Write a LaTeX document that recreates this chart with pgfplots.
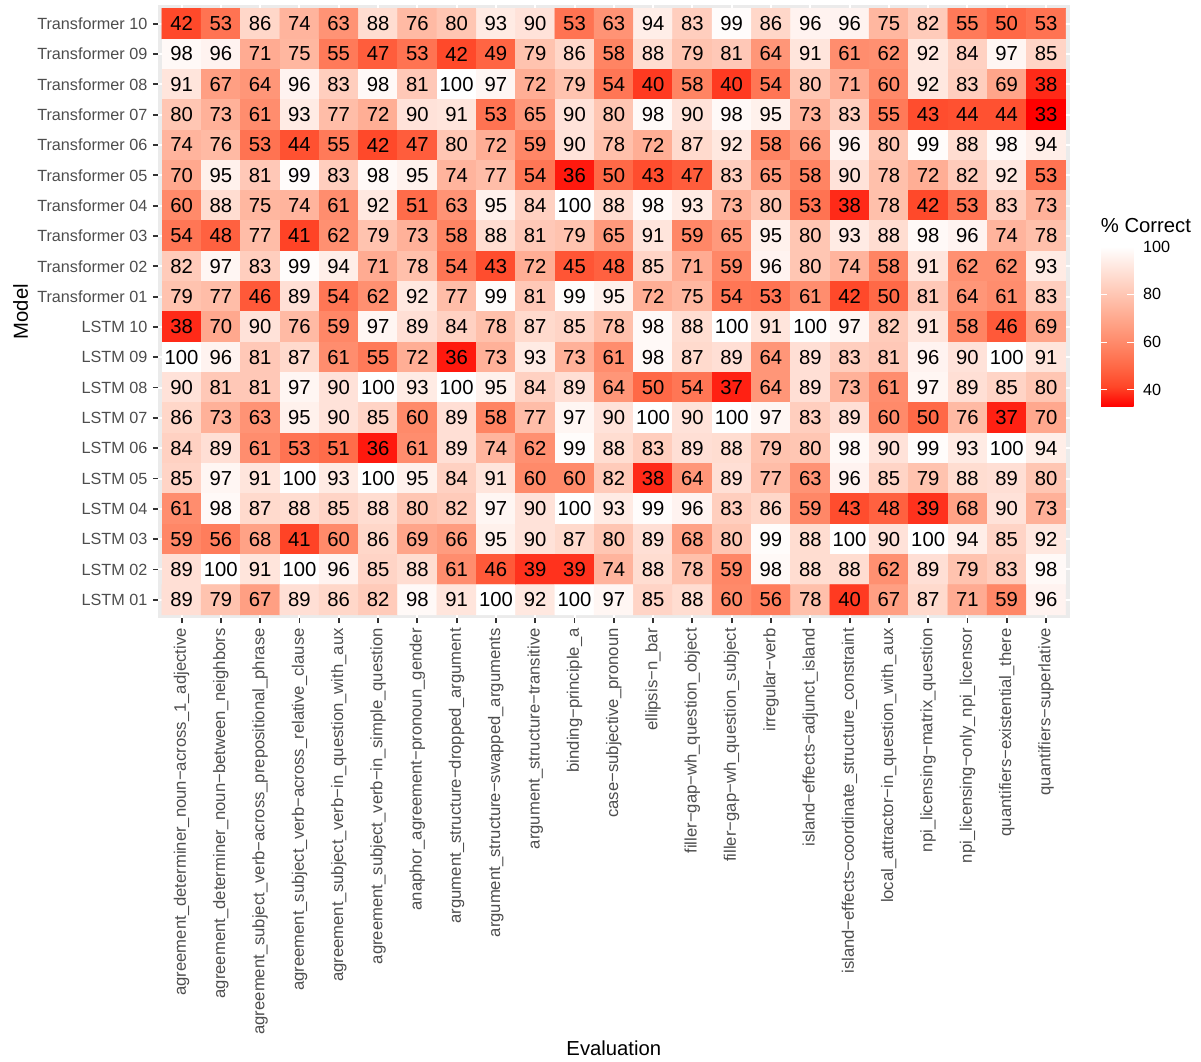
\documentclass[border=0pt]{standalone}
\usepackage{fontspec}
\setmainfont{Liberation Sans}
\usepackage{pgfplots}
\usepackage{pgfplotstable}
\pgfplotsset{compat=1.18}
\pgfplotsset{/pgf/number format/assume math mode=true}
\definecolor{ggbg}{HTML}{EBEBEB}
\definecolor{gggray30}{HTML}{4D4D4D}
\definecolor{gggray20}{HTML}{333333}
\newcommand\tickfont{\fontsize{12.15pt}{14pt}\selectfont}
\newcommand\xtickfont{\fontsize{12.5pt}{14pt}\selectfont}
\newcommand\cellfont{\fontsize{15.2pt}{18pt}\selectfont}
\newcommand\titlefont{\fontsize{15.2pt}{18pt}\selectfont}
\pgfplotsset{colormap={ggred}{rgb255=(255,0,0) rgb255=(255,70,40) rgb255=(255,104,70) rgb255=(255,132,100) rgb255=(255,158,129) rgb255=(255,183,160) rgb255=(255,207,191) rgb255=(255,231,223) rgb255=(255,255,255)}}
\pgfplotsset{colorbar/width=24.5pt, colorbar shift/.style={xshift=22.8pt, yshift=-180.9pt}}
% y = 1 is Transformer 10 (top row), y = 20 is LSTM 01 (bottom row)
\pgfplotstableread[row sep=\\]{
x y c\\
1 1 42\\ 2 1 53\\ 3 1 86\\ 4 1 74\\ 5 1 63\\ 6 1 88\\ 7 1 76\\ 8 1 80\\ 9 1 93\\ 10 1 90\\ 11 1 53\\ 12 1 63\\ 13 1 94\\ 14 1 83\\ 15 1 99\\ 16 1 86\\ 17 1 96\\ 18 1 96\\ 19 1 75\\ 20 1 82\\ 21 1 55\\ 22 1 50\\ 23 1 53\\
1 2 98\\ 2 2 96\\ 3 2 71\\ 4 2 75\\ 5 2 55\\ 6 2 47\\ 7 2 53\\ 8 2 42\\ 9 2 49\\ 10 2 79\\ 11 2 86\\ 12 2 58\\ 13 2 88\\ 14 2 79\\ 15 2 81\\ 16 2 64\\ 17 2 91\\ 18 2 61\\ 19 2 62\\ 20 2 92\\ 21 2 84\\ 22 2 97\\ 23 2 85\\
1 3 91\\ 2 3 67\\ 3 3 64\\ 4 3 96\\ 5 3 83\\ 6 3 98\\ 7 3 81\\ 8 3 100\\ 9 3 97\\ 10 3 72\\ 11 3 79\\ 12 3 54\\ 13 3 40\\ 14 3 58\\ 15 3 40\\ 16 3 54\\ 17 3 80\\ 18 3 71\\ 19 3 60\\ 20 3 92\\ 21 3 83\\ 22 3 69\\ 23 3 38\\
1 4 80\\ 2 4 73\\ 3 4 61\\ 4 4 93\\ 5 4 77\\ 6 4 72\\ 7 4 90\\ 8 4 91\\ 9 4 53\\ 10 4 65\\ 11 4 90\\ 12 4 80\\ 13 4 98\\ 14 4 90\\ 15 4 98\\ 16 4 95\\ 17 4 73\\ 18 4 83\\ 19 4 55\\ 20 4 43\\ 21 4 44\\ 22 4 44\\ 23 4 33\\
1 5 74\\ 2 5 76\\ 3 5 53\\ 4 5 44\\ 5 5 55\\ 6 5 42\\ 7 5 47\\ 8 5 80\\ 9 5 72\\ 10 5 59\\ 11 5 90\\ 12 5 78\\ 13 5 72\\ 14 5 87\\ 15 5 92\\ 16 5 58\\ 17 5 66\\ 18 5 96\\ 19 5 80\\ 20 5 99\\ 21 5 88\\ 22 5 98\\ 23 5 94\\
1 6 70\\ 2 6 95\\ 3 6 81\\ 4 6 99\\ 5 6 83\\ 6 6 98\\ 7 6 95\\ 8 6 74\\ 9 6 77\\ 10 6 54\\ 11 6 36\\ 12 6 50\\ 13 6 43\\ 14 6 47\\ 15 6 83\\ 16 6 65\\ 17 6 58\\ 18 6 90\\ 19 6 78\\ 20 6 72\\ 21 6 82\\ 22 6 92\\ 23 6 53\\
1 7 60\\ 2 7 88\\ 3 7 75\\ 4 7 74\\ 5 7 61\\ 6 7 92\\ 7 7 51\\ 8 7 63\\ 9 7 95\\ 10 7 84\\ 11 7 100\\ 12 7 88\\ 13 7 98\\ 14 7 93\\ 15 7 73\\ 16 7 80\\ 17 7 53\\ 18 7 38\\ 19 7 78\\ 20 7 42\\ 21 7 53\\ 22 7 83\\ 23 7 73\\
1 8 54\\ 2 8 48\\ 3 8 77\\ 4 8 41\\ 5 8 62\\ 6 8 79\\ 7 8 73\\ 8 8 58\\ 9 8 88\\ 10 8 81\\ 11 8 79\\ 12 8 65\\ 13 8 91\\ 14 8 59\\ 15 8 65\\ 16 8 95\\ 17 8 80\\ 18 8 93\\ 19 8 88\\ 20 8 98\\ 21 8 96\\ 22 8 74\\ 23 8 78\\
1 9 82\\ 2 9 97\\ 3 9 83\\ 4 9 99\\ 5 9 94\\ 6 9 71\\ 7 9 78\\ 8 9 54\\ 9 9 43\\ 10 9 72\\ 11 9 45\\ 12 9 48\\ 13 9 85\\ 14 9 71\\ 15 9 59\\ 16 9 96\\ 17 9 80\\ 18 9 74\\ 19 9 58\\ 20 9 91\\ 21 9 62\\ 22 9 62\\ 23 9 93\\
1 10 79\\ 2 10 77\\ 3 10 46\\ 4 10 89\\ 5 10 54\\ 6 10 62\\ 7 10 92\\ 8 10 77\\ 9 10 99\\ 10 10 81\\ 11 10 99\\ 12 10 95\\ 13 10 72\\ 14 10 75\\ 15 10 54\\ 16 10 53\\ 17 10 61\\ 18 10 42\\ 19 10 50\\ 20 10 81\\ 21 10 64\\ 22 10 61\\ 23 10 83\\
1 11 38\\ 2 11 70\\ 3 11 90\\ 4 11 76\\ 5 11 59\\ 6 11 97\\ 7 11 89\\ 8 11 84\\ 9 11 78\\ 10 11 87\\ 11 11 85\\ 12 11 78\\ 13 11 98\\ 14 11 88\\ 15 11 100\\ 16 11 91\\ 17 11 100\\ 18 11 97\\ 19 11 82\\ 20 11 91\\ 21 11 58\\ 22 11 46\\ 23 11 69\\
1 12 100\\ 2 12 96\\ 3 12 81\\ 4 12 87\\ 5 12 61\\ 6 12 55\\ 7 12 72\\ 8 12 36\\ 9 12 73\\ 10 12 93\\ 11 12 73\\ 12 12 61\\ 13 12 98\\ 14 12 87\\ 15 12 89\\ 16 12 64\\ 17 12 89\\ 18 12 83\\ 19 12 81\\ 20 12 96\\ 21 12 90\\ 22 12 100\\ 23 12 91\\
1 13 90\\ 2 13 81\\ 3 13 81\\ 4 13 97\\ 5 13 90\\ 6 13 100\\ 7 13 93\\ 8 13 100\\ 9 13 95\\ 10 13 84\\ 11 13 89\\ 12 13 64\\ 13 13 50\\ 14 13 54\\ 15 13 37\\ 16 13 64\\ 17 13 89\\ 18 13 73\\ 19 13 61\\ 20 13 97\\ 21 13 89\\ 22 13 85\\ 23 13 80\\
1 14 86\\ 2 14 73\\ 3 14 63\\ 4 14 95\\ 5 14 90\\ 6 14 85\\ 7 14 60\\ 8 14 89\\ 9 14 58\\ 10 14 77\\ 11 14 97\\ 12 14 90\\ 13 14 100\\ 14 14 90\\ 15 14 100\\ 16 14 97\\ 17 14 83\\ 18 14 89\\ 19 14 60\\ 20 14 50\\ 21 14 76\\ 22 14 37\\ 23 14 70\\
1 15 84\\ 2 15 89\\ 3 15 61\\ 4 15 53\\ 5 15 51\\ 6 15 36\\ 7 15 61\\ 8 15 89\\ 9 15 74\\ 10 15 62\\ 11 15 99\\ 12 15 88\\ 13 15 83\\ 14 15 89\\ 15 15 88\\ 16 15 79\\ 17 15 80\\ 18 15 98\\ 19 15 90\\ 20 15 99\\ 21 15 93\\ 22 15 100\\ 23 15 94\\
1 16 85\\ 2 16 97\\ 3 16 91\\ 4 16 100\\ 5 16 93\\ 6 16 100\\ 7 16 95\\ 8 16 84\\ 9 16 91\\ 10 16 60\\ 11 16 60\\ 12 16 82\\ 13 16 38\\ 14 16 64\\ 15 16 89\\ 16 16 77\\ 17 16 63\\ 18 16 96\\ 19 16 85\\ 20 16 79\\ 21 16 88\\ 22 16 89\\ 23 16 80\\
1 17 61\\ 2 17 98\\ 3 17 87\\ 4 17 88\\ 5 17 85\\ 6 17 88\\ 7 17 80\\ 8 17 82\\ 9 17 97\\ 10 17 90\\ 11 17 100\\ 12 17 93\\ 13 17 99\\ 14 17 96\\ 15 17 83\\ 16 17 86\\ 17 17 59\\ 18 17 43\\ 19 17 48\\ 20 17 39\\ 21 17 68\\ 22 17 90\\ 23 17 73\\
1 18 59\\ 2 18 56\\ 3 18 68\\ 4 18 41\\ 5 18 60\\ 6 18 86\\ 7 18 69\\ 8 18 66\\ 9 18 95\\ 10 18 90\\ 11 18 87\\ 12 18 80\\ 13 18 89\\ 14 18 68\\ 15 18 80\\ 16 18 99\\ 17 18 88\\ 18 18 100\\ 19 18 90\\ 20 18 100\\ 21 18 94\\ 22 18 85\\ 23 18 92\\
1 19 89\\ 2 19 100\\ 3 19 91\\ 4 19 100\\ 5 19 96\\ 6 19 85\\ 7 19 88\\ 8 19 61\\ 9 19 46\\ 10 19 39\\ 11 19 39\\ 12 19 74\\ 13 19 88\\ 14 19 78\\ 15 19 59\\ 16 19 98\\ 17 19 88\\ 18 19 88\\ 19 19 62\\ 20 19 89\\ 21 19 79\\ 22 19 83\\ 23 19 98\\
1 20 89\\ 2 20 79\\ 3 20 67\\ 4 20 89\\ 5 20 86\\ 6 20 82\\ 7 20 98\\ 8 20 91\\ 9 20 100\\ 10 20 92\\ 11 20 100\\ 12 20 97\\ 13 20 85\\ 14 20 88\\ 15 20 60\\ 16 20 56\\ 17 20 78\\ 18 20 40\\ 19 20 67\\ 20 20 87\\ 21 20 71\\ 22 20 59\\ 23 20 96\\
}\heat
\begin{document}
\begin{tikzpicture}
\useasboundingbox (-118.5pt,-333pt) rectangle ++(900.75pt,796.5pt);
\begin{axis}[
  at={(0,0)}, anchor=south west,
  scale only axis, width=683.7pt, height=459.4pt,
  xmin=0.4, xmax=23.6, ymin=0.4, ymax=20.6, y dir=reverse,
  colormap name=ggred, point meta min=33, point meta max=100,
  axis background/.style={fill=ggbg},
  axis line style={draw=none},
  grid=major, major grid style={white, line width=1.5pt},
  tick align=outside, major tick length=3.75pt,
  tick style={gggray20, line width=1.4pt},
  xtick pos=bottom, ytick pos=left,
  xtick={1,...,23}, ytick={1,...,20},
  xticklabels={agreement\_determiner\_noun−across\_1\_adjective,
    agreement\_determiner\_noun−between\_neighbors,
    agreement\_subject\_verb−across\_prepositional\_phrase,
    agreement\_subject\_verb−across\_relative\_clause,
    agreement\_subject\_verb−in\_question\_with\_aux,
    agreement\_subject\_verb−in\_simple\_question,
    anaphor\_agreement−pronoun\_gender,
    argument\_structure−dropped\_argument,
    argument\_structure−swapped\_arguments,
    argument\_structure−transitive,
    binding−principle\_a,
    case−subjective\_pronoun,
    ellipsis−n\_bar,
    filler−gap−wh\_question\_object,
    filler−gap−wh\_question\_subject,
    irregular−verb,
    island−effects−adjunct\_island,
    island−effects−coordinate\_structure\_constraint,
    local\_attractor−in\_question\_with\_aux,
    npi\_licensing−matrix\_question,
    npi\_licensing−only\_npi\_licensor,
    quantifiers−existential\_there,
    quantifiers−superlative},
  yticklabels={Transformer 10,Transformer 09,Transformer 08,Transformer 07,Transformer 06,Transformer 05,Transformer 04,Transformer 03,Transformer 02,Transformer 01,LSTM 10,LSTM 09,LSTM 08,LSTM 07,LSTM 06,LSTM 05,LSTM 04,LSTM 03,LSTM 02,LSTM 01},
  xticklabel style={rotate=90, anchor=east, font=\xtickfont, text=gggray30, inner xsep=3.75pt, inner ysep=0pt},
  yticklabel style={anchor=east, font=\tickfont, text=gggray30, inner xsep=4pt, inner ysep=0pt},
  colorbar,
  colorbar style={
    anchor=north west,
    scale only axis, width=24.5pt, height=120pt,
    axis line style={draw=none},
    axis on top,
    ytick={40,60,80,100},
    ytick pos=both, yticklabel pos=right,
    tick align=inside, major tick length=4.8pt,
    ytick style={white, line width=0.8pt},
    yticklabel style={font=\tickfont, text=black, inner sep=0pt, xshift=6.8pt},
  },
]
\addplot[matrix plot*, mesh/cols=23, point meta=explicit] table[x=x, y=y, meta=c]{\heat};
\addplot[only marks, mark=none, point meta=explicit,
  nodes near coords={\pgfmathprintnumber[fixed,precision=0]{\pgfplotspointmeta}},
  every node near coord/.append style={anchor=center, font=\cellfont, text=black, inner sep=0pt}]
  table[x=x, y=y, meta=c]{\heat};
\end{axis}
\node[anchor=base west, font=\titlefont, inner sep=0pt] at (707pt,288.75pt) {\% Correct};
\node[anchor=base, font=\titlefont, inner sep=0pt] at (341.85pt,-327.75pt) {Evaluation};
\node[rotate=90, anchor=center, font=\titlefont, inner sep=0pt] at (-103.1pt,229.7pt) {Model};
\end{tikzpicture}
\end{document}
